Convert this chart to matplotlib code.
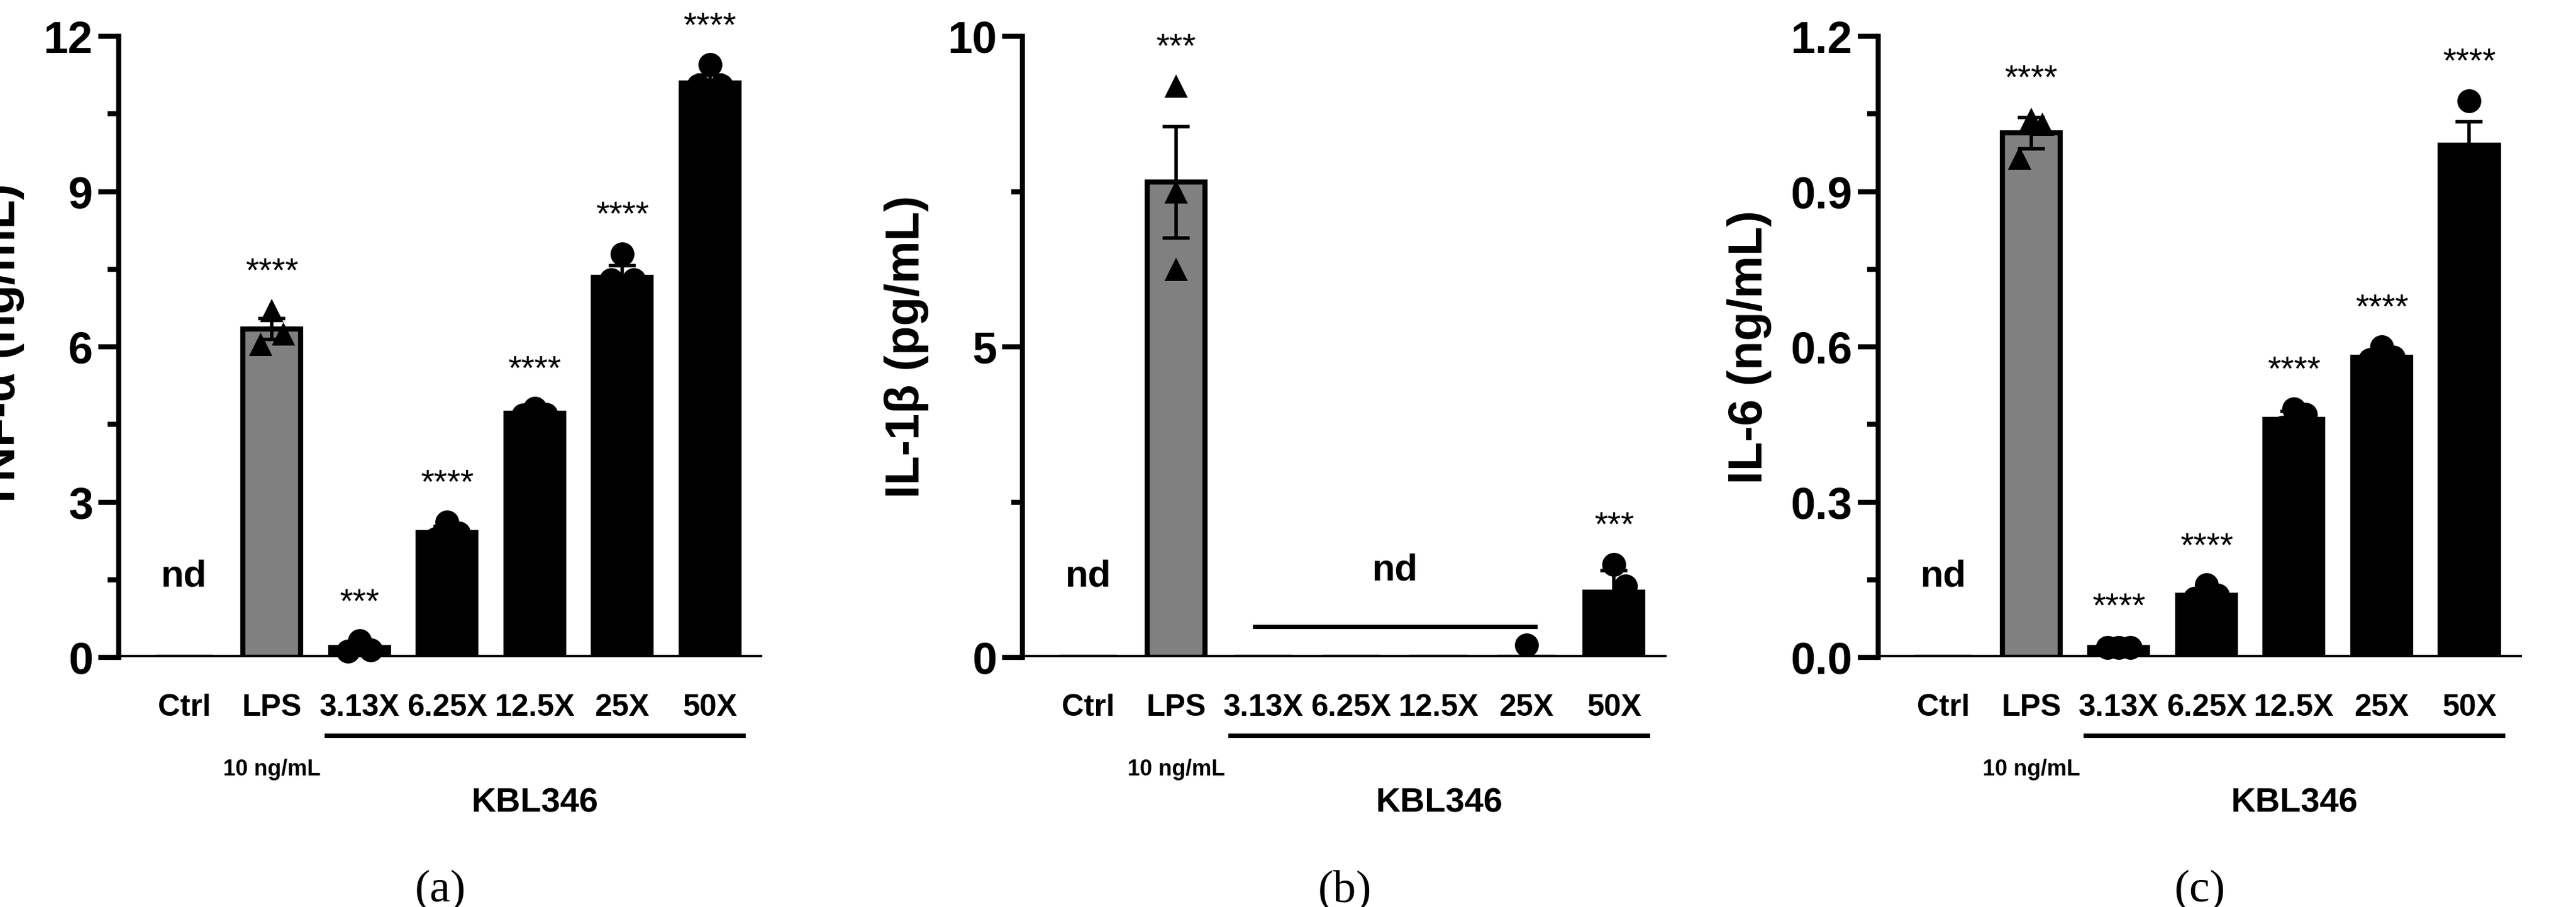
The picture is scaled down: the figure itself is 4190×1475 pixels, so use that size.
import matplotlib
matplotlib.use("Agg")
import matplotlib.pyplot as plt

plt.rcParams['font.family'] = ['Liberation Sans', 'DejaVu Sans']

groups = ["Ctrl", "LPS", "3.13X", "6.25X", "12.5X", "25X", "50X"]

# panel a: TNF-alpha (ng/mL)
tnf_mean = [0, 6.35, 0.2, 2.42, 4.72, 7.35, 11.1]
tnf_sem = [0, 0.2, 0.06, 0.12, 0.05, 0.22, 0.15]
tnf_pts = [[], [6.7, 6.25, 6.05], [0.32, 0.15, 0.12], [2.62, 2.4, 2.3],
           [4.82, 4.7, 4.68], [7.8, 7.3, 7.3], [11.45, 11.05, 11.05]]
tnf_stars = ["", "****", "***", "****", "****", "****", "****"]

# panel b: IL-1beta (pg/mL)
il1_mean = [0, 7.65, 0, 0, 0, 0, 1.05]
il1_sem = [0, 0.9, 0, 0, 0, 0, 0.35]
il1_pts = [[], [9.2, 7.5, 6.25], [], [], [], [0.2], [1.5, 1.15, 0.5]]
il1_stars = ["", "***", "", "", "", "", "***"]

# panel c: IL-6 (ng/mL)
il6_mean = [0, 1.013, 0.02, 0.12, 0.46, 0.58, 0.99]
il6_sem = [0, 0.03, 0.003, 0.01, 0.015, 0.008, 0.045]
il6_pts = [[], [1.04, 1.03, 0.965], [0.02, 0.02, 0.02], [0.14, 0.12, 0.115],
           [0.48, 0.47, 0.445], [0.6, 0.58, 0.575], [1.075, 0.955, 0.955]]
il6_stars = ["", "****", "****", "****", "****", "****", "****"]

panels = [
    (tnf_mean, tnf_sem, tnf_pts, tnf_stars, "TNF-α (ng/mL)", [0, 3, 6, 9, 12], ["0", "3", "6", "9", "12"], 12, "(a)", None),
    (il1_mean, il1_sem, il1_pts, il1_stars, "IL-1β (pg/mL)", [0, 5, 10], ["0", "5", "10"], 10, "(b)", (2, 5)),
    (il6_mean, il6_sem, il6_pts, il6_stars, "IL-6 (ng/mL)", [0, 0.3, 0.6, 0.9, 1.2], ["0.0", "0.3", "0.6", "0.9", "1.2"], 1.2, "(c)", None),
]
# horizontal jitter of the replicate points, per group
jitter = {1: [0, 0.12, -0.12], "b1": [0, 0, 0]}

fig = plt.figure(figsize=(41.9, 14.75), dpi=100)
lefts = [0.046, 0.397, 0.729]
width = 0.25
lw = 6

for pi, ((mean, sem, pts, stars, ylab, yt, ytl, ymax, tag, ndrange), left) in enumerate(zip(panels, lefts)):
    ax = fig.add_axes([left, 0.275, width, 0.685])
    x = list(range(len(groups)))
    colors = ["white", "#808080"] + ["black"] * 5
    ax.bar(x, mean, width=0.66, color=colors, edgecolor="black", linewidth=lw, zorder=2)
    for i in x:
        if sem[i] > 0:
            ax.errorbar(i, mean[i], yerr=sem[i], color="black", capsize=16, capthick=4,
                        elinewidth=4, zorder=3)
        marker = "^" if i == 1 else "o"
        offs = [0, 0.13, -0.13]
        if len(pts[i]) == 1 or (pi == 1 and i == 1):
            offs = [0, 0, 0]
        for k, v in enumerate(pts[i]):
            ax.plot(i + offs[k], v, marker=marker, ms=28, color="black", zorder=4,
                    clip_on=False, markeredgewidth=0)
        if stars[i]:
            top = max([mean[i] + sem[i]] + pts[i])
            ax.text(i, top + ymax * 0.035, stars[i], ha="center", va="bottom", fontsize=40)
    ax.set_ylim(0, ymax)
    ax.set_xlim(-0.75, 6.6)
    ax.set_yticks(yt)
    ax.set_yticklabels(ytl, fontsize=52, fontweight="bold")
    ax.set_yticks([(yt[j] + yt[j + 1]) / 2 for j in range(len(yt) - 1)], minor=True)
    ax.tick_params(axis="y", which="major", length=24, width=lw, pad=6)
    ax.tick_params(axis="y", which="minor", length=13, width=lw)
    ax.set_xticks(x)
    ax.set_xticklabels(groups, fontsize=36, fontweight="bold")
    ax.tick_params(axis="x", length=0, pad=42)
    ax.set_ylabel(ylab, fontsize=56, fontweight="bold", labelpad=22)
    for s in ["top", "right", "bottom"]:
        ax.spines[s].set_visible(False)
    ax.spines["left"].set_linewidth(lw)
    ax.axhline(0, color="black", lw=lw, zorder=5)
    tr = ax.get_xaxis_transform()
    ax.text(1, -0.18, "10 ng/mL", transform=tr, ha="center", va="center", fontsize=26, fontweight="bold")
    ax.plot([1.62, 6.38], [-0.125, -0.125], transform=tr, color="black", lw=5, clip_on=False)
    ax.text(4, -0.235, "KBL346", transform=tr, ha="center", va="center", fontsize=40, fontweight="bold")
    ax.text(0, 0.13, "nd", transform=tr, ha="center", va="center", fontsize=44, fontweight="bold")
    if ndrange:
        ax.plot([ndrange[0] - 0.1, ndrange[1] + 0.1], [0.05, 0.05], transform=tr, color="black", lw=5)
        ax.text((ndrange[0] + ndrange[1]) / 2, 0.14, "nd", transform=tr, ha="center", va="center",
                fontsize=44, fontweight="bold")
    ax.text(0.5, -0.375, tag, transform=ax.transAxes, ha="center", va="center", fontsize=54,
            family="Liberation Serif")

fig.savefig("out.png", dpi=100)
